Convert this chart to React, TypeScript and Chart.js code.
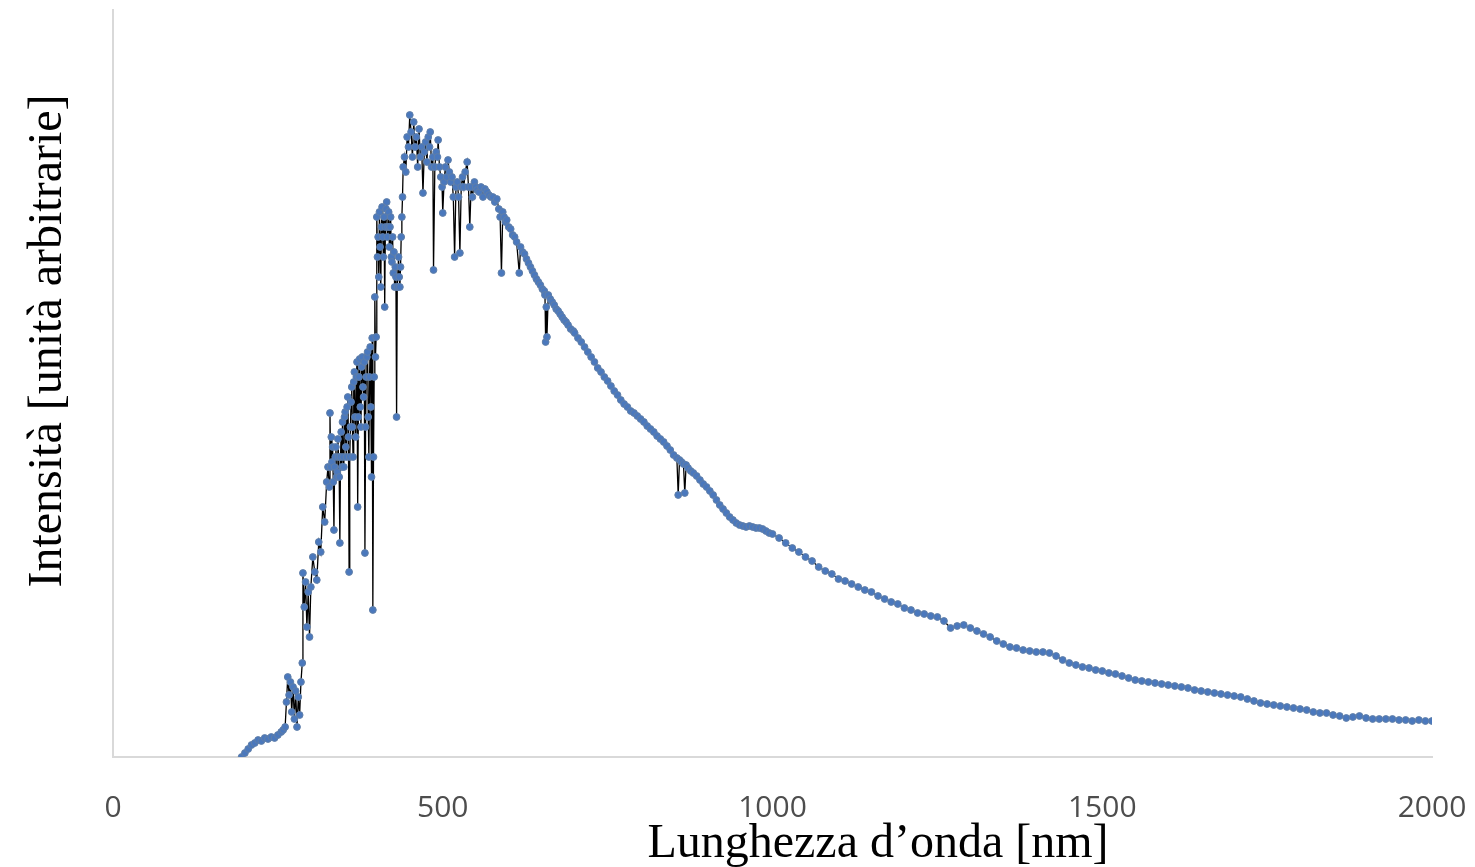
import { useEffect, useRef } from "react";
import { Chart, registerables } from "chart.js";

Chart.register(...registerables);

const xTitle = "Lunghezza d\u2019onda [nm]";
const yTitle = "Intensit\u00e0 [unit\u00e0 arbitrarie]";
const xTicks = [0, 500, 1000, 1500, 2000];

// UV part (nm) and intensity (arbitrary units)
const uvNm = [195, 200, 205, 210, 215, 220, 225, 230, 235, 240, 245, 250, 255, 258, 261, 263, 265, 267, 269, 271, 273, 275, 277, 279, 281, 283, 285, 287, 288, 290, 292, 294, 296, 298, 300, 303, 306, 309, 312, 315, 318, 321, 324, 326, 328, 329];
const uvVal = [0, 4, 8, 12, 14, 17, 16, 19, 18, 20, 19, 22, 25, 27, 30, 55, 80, 62, 75, 45, 70, 38, 66, 30, 60, 42, 75, 94, 184, 150, 175, 130, 165, 120, 170, 200, 185, 177, 215, 205, 250, 235, 275, 290, 270, 344];

// Near UV, 330-399 nm
const nearUvNm = [330, 331, 332, 333, 334, 335, 336, 337, 338, 339, 340, 341, 342, 343, 344, 345, 346, 347, 348, 349, 350, 351, 352, 353, 354, 355, 356, 357, 358, 359, 360, 361, 362, 363, 364, 365, 366, 367, 368, 369, 370, 371, 372, 373, 374, 375, 376, 377, 378, 379, 380, 381, 382, 383, 384, 385, 386, 387, 388, 389, 390, 391, 392, 393, 394, 395, 396, 397, 398, 399];
const nearUvVal = [290, 320, 295, 310, 275, 227, 290, 300, 310, 280, 285, 318, 300, 280, 214, 300, 325, 290, 335, 300, 290, 340, 345, 310, 300, 350, 360, 320, 185, 300, 330, 355, 370, 330, 300, 375, 385, 340, 320, 380, 395, 250, 340, 380, 398, 350, 330, 390, 400, 370, 360, 395, 204, 330, 380, 400, 405, 340, 300, 380, 410, 350, 280, 419, 147, 300, 380, 460, 400, 420];

// Violet, 400-439 nm
const violetNm = [400, 401, 402, 403, 404, 405, 406, 407, 408, 409, 410, 411, 412, 413, 414, 415, 416, 417, 418, 419, 420, 421, 422, 423, 424, 425, 426, 427, 428, 429, 430, 431, 432, 433, 434, 435, 436, 437, 438, 439];
const violetVal = [540, 500, 520, 480, 545, 510, 470, 530, 550, 520, 500, 540, 450, 530, 548, 555, 520, 530, 545, 510, 530, 540, 500, 495, 520, 484, 505, 470, 490, 480, 340, 470, 470, 500, 480, 470, 490, 520, 540, 560];

// Blue / green / yellow part
const blueNm = [440, 442, 444, 446, 448, 450, 452, 454, 456, 458, 460, 462, 464, 466, 468, 470, 472, 474, 476, 478, 480, 481, 483, 485, 486, 488, 490, 492, 493, 495, 497, 499, 500, 502, 504, 506, 508, 510, 512, 514, 516, 518, 520, 522, 524, 526, 528, 530, 532, 534, 537, 539, 541, 543, 545, 548, 550, 552, 555, 558, 561, 564, 567, 570, 573, 576, 579, 582, 585, 587, 589, 591, 593, 595, 597];
const blueVal = [590, 600, 585, 620, 610, 642, 625, 600, 635, 610, 620, 590, 628, 600, 610, 564, 605, 615, 595, 620, 610, 625, 590, 600, 487, 590, 605, 600, 617, 590, 580, 570, 544, 575, 590, 580, 597, 585, 575, 580, 560, 500, 570, 575, 560, 504, 570, 580, 570, 585, 595, 570, 530, 570, 560, 575, 570, 567, 565, 570, 560, 568, 565, 562, 560, 560, 555, 558, 548, 540, 484, 545, 540, 535, 537];

// Red / near infrared part
const redNm = [600, 603, 606, 609, 612, 616, 618, 621, 624, 627, 630, 633, 636, 639, 642, 645, 648, 651, 654, 655, 656, 657, 658, 660, 663, 666, 669, 672, 675, 678, 681, 684, 687, 690, 694, 698, 700, 705, 710, 715, 720, 725, 730, 735, 740, 745, 750, 755, 760, 765, 770, 775, 780, 785, 790, 795, 800, 805, 810, 815, 820, 825, 830, 835, 840, 845, 850, 855, 857, 859, 862, 865, 867, 869, 872, 876, 880, 885, 890, 895, 900, 905, 910, 915, 920, 925, 930, 935, 940, 945, 950, 955, 960, 965, 970, 975, 980, 985, 990, 995];
const redVal = [530, 528, 522, 520, 515, 484, 510, 505, 503, 498, 494, 490, 486, 482, 478, 475, 472, 468, 466, 462, 415, 450, 420, 462, 458, 455, 452, 448, 446, 443, 440, 437, 435, 432, 428, 426, 424, 419, 415, 410, 405, 400, 395, 389, 385, 380, 376, 371, 366, 362, 357, 353, 350, 346, 344, 341, 338, 335, 331, 328, 325, 321, 318, 315, 311, 307, 302, 299, 262, 297, 295, 293, 264, 292, 289, 286, 284, 281, 277, 273, 270, 266, 262, 257, 252, 248, 244, 240, 237, 234, 232, 231, 230, 231, 230, 229, 229, 228, 226, 224];

// Infrared part
const irNm = [1000, 1010, 1020, 1030, 1040, 1050, 1060, 1070, 1080, 1090, 1100, 1110, 1120, 1130, 1140, 1150, 1160, 1170, 1180, 1190, 1200, 1210, 1220, 1230, 1240, 1250, 1260, 1270, 1280, 1290, 1300, 1310, 1320, 1330, 1340, 1350, 1360, 1370, 1380, 1390, 1400, 1410, 1420, 1430, 1440, 1450, 1460, 1470, 1480, 1490, 1500, 1510, 1520, 1530, 1540, 1550, 1560, 1570, 1580, 1590, 1600, 1610, 1620, 1630, 1640, 1650, 1660, 1670, 1680, 1690, 1700, 1710, 1720, 1730, 1740, 1750, 1760, 1770, 1780, 1790, 1800, 1810, 1820, 1830, 1840, 1850, 1860, 1870, 1880, 1890, 1900, 1910, 1920, 1930, 1940, 1950, 1960, 1970, 1980, 1990, 2000];
const irVal = [223, 219, 214, 209, 205, 200, 196, 190, 186, 183, 178, 176, 173, 170, 167, 165, 161, 158, 155, 153, 149, 147, 144, 143, 141, 140, 136, 129, 131, 132, 129, 126, 123, 120, 116, 113, 110, 109, 107, 106, 105, 105, 104, 101, 97, 94, 92, 90, 89, 87, 86, 84, 83, 81, 79, 77, 76, 75, 74, 73, 72, 71, 70, 69, 67, 66, 65, 64, 63, 62, 61, 60, 58, 56, 54, 53, 52, 51, 50, 49, 48, 47, 45, 44, 44, 42, 41, 39, 40, 41, 39, 38, 38, 38, 38, 37, 37, 36, 37, 36, 36];

export default function App() {
  const canvasRef = useRef<HTMLCanvasElement>(null);

  useEffect(() => {
    const canvas = canvasRef.current;
    if (!canvas) return;
    const nm = [...uvNm, ...nearUvNm, ...violetNm, ...blueNm, ...redNm, ...irNm];
    const val = [...uvVal, ...nearUvVal, ...violetVal, ...blueVal, ...redVal, ...irVal];
    const points = nm.map((x, i) => ({ x, y: val[i] }));

    const axisTitles = {
      id: "axisTitles",
      afterDraw(chart: any) {
        const ctx = chart.ctx;
        ctx.save();
        ctx.fillStyle = "#000000";
        ctx.font = '48px "Liberation Serif"';
        ctx.textAlign = "center";
        ctx.textBaseline = "alphabetic";
        ctx.fillText(xTitle, 878, 857);
        ctx.translate(61, 341);
        ctx.rotate(-Math.PI / 2);
        ctx.fillText(yTitle, 0, 0);
        ctx.restore();
      },
    };

    const chart = new Chart(canvas, {
      type: "scatter",
      data: {
        datasets: [
          {
            data: points,
            showLine: true,
            borderColor: "#000000",
            borderWidth: 1.3,
            tension: 0,
            pointRadius: 3.4,
            pointBorderWidth: 1,
            pointBackgroundColor: "#4a78bd",
            pointBorderColor: "#607fa8",
          },
        ],
      },
      options: {
        responsive: false,
        devicePixelRatio: 1,
        animation: false,
        layout: { padding: { left: 113, right: 43, top: 10, bottom: 0 } },
        plugins: { legend: { display: false }, tooltip: { enabled: false } },
        scales: {
          x: {
            type: "linear",
            min: 0,
            max: 2000,
            afterBuildTicks: (scale: any) => {
              scale.ticks = xTicks.map((v) => ({ value: v }));
            },
            afterFit: (scale: any) => {
              scale.height = 110;
              scale.paddingLeft = 0;
              scale.paddingRight = 0;
            },
            ticks: {
              padding: 33,
              color: "#4d4d4d",
              font: { family: '"Open Sans"', size: 30 },
              maxRotation: 0,
              callback: (v: any) => String(v),
            },
            grid: { display: false, drawTicks: false },
            border: { display: true, color: "#d9d9d9", width: 2 },
          },
          y: {
            type: "linear",
            min: 0,
            max: 747,
            afterFit: (scale: any) => {
              scale.width = 0;
              scale.paddingTop = 0;
              scale.paddingBottom = 0;
            },
            ticks: { display: false },
            grid: { display: false, drawTicks: false },
            border: { display: true, color: "#d9d9d9", width: 2 },
          },
        },
      },
      plugins: [axisTitles],
    });

    return () => chart.destroy();
  }, []);

  return (
    <div style={{ position: "fixed", left: 0, top: 0, width: 1475, height: 867, background: "#ffffff" }}>
      <canvas ref={canvasRef} width={1475} height={867} style={{ display: "block", width: 1475, height: 867 }} />
    </div>
  );
}
